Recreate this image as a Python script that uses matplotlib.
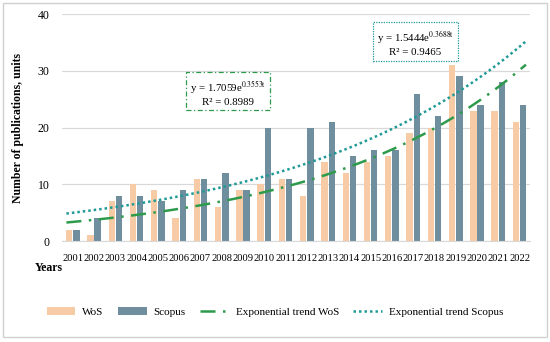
import numpy as np
import matplotlib.pyplot as plt
from matplotlib.patches import Rectangle

years = [str(y) for y in range(2001, 2023)]
wos = [2, 1, 7, 10, 9, 4, 11, 6, 9, 10, 11, 8, 14, 12, 14, 15, 19, 20, 31, 23, 23, 21]
scopus = [2, 4, 8, 8, 7, 9, 11, 12, 9, 20, 11, 20, 21, 15, 16, 16, 26, 22, 29, 24, 28, 24]

wos_eq = ("y = 1.7059e$^{0.3553t}$", "R² = 0.8989")
scopus_eq = ("y = 1.5444e$^{0.3688t}$", "R² = 0.9465")

WOS_COLOR = "#F6CBA6"
SCOPUS_COLOR = "#6F8E9E"
WOS_TREND = "#2E9A4C"
SCOPUS_TREND = "#1F9A96"

plt.rcParams["font.family"] = ["Liberation Serif", "DejaVu Serif"]
plt.rcParams["mathtext.fontset"] = "stix"
plt.rcParams["mathtext.default"] = "rm"

fig = plt.figure(figsize=(5.5, 3.42), dpi=100)
ax = fig.add_axes([0.113, 0.295, 0.851, 0.664])

x = np.arange(len(years))
w = 0.3
b_wos = ax.bar(x - w / 2 - 0.02, wos, w, color=WOS_COLOR, label="WoS", zorder=2)
b_sco = ax.bar(x + w / 2 + 0.02, scopus, w, color=SCOPUS_COLOR, label="Scopus", zorder=2)


def exp_fit(vals):
    b, ln_a = np.polyfit(x, np.log(vals), 1)
    return np.exp(ln_a), b


xt = np.linspace(-0.3, 21.3, 200)
a1, b1 = exp_fit(wos)
a2, b2 = exp_fit(scopus)
l_wos, = ax.plot(xt, a1 * np.exp(b1 * xt), color=WOS_TREND, lw=1.8,
                 linestyle=(0, (6, 3, 1, 3)), label="Exponential trend WoS", zorder=3)
l_sco, = ax.plot(xt, a2 * np.exp(b2 * xt), color=SCOPUS_TREND, lw=1.8,
                 linestyle=(0, (1, 1.2)), label="Exponential trend Scopus", zorder=3)

ax.set_xlim(-0.5, 21.5)
ax.set_ylim(0, 40)
ax.set_yticks([0, 10, 20, 30, 40])
ax.set_xticks(x)
ax.set_xticklabels(years, fontsize=7.6)
ax.tick_params(axis="y", labelsize=8.5, length=0, pad=9)
ax.tick_params(axis="x", length=0, pad=9)
ax.grid(axis="y", color="#D9D9D9", lw=0.9, zorder=0)
for s in ["top", "right", "left"]:
    ax.spines[s].set_visible(False)
ax.spines["bottom"].set_color("#D9D9D9")
ax.set_ylabel("Number of publications, units", fontsize=8.5, fontweight="bold", labelpad=10)

ax.text(7.3, 28.6, wos_eq[0] + "\n" + wos_eq[1], fontsize=7.8, ha="center", va="top",
        linespacing=1.3, zorder=6,
        bbox=dict(boxstyle="square,pad=0.35", fc="white", ec=WOS_TREND, ls=(0, (4, 2, 1, 2)), lw=0.9))
ax.text(16.1, 37.4, scopus_eq[0] + "\n" + scopus_eq[1], fontsize=7.8, ha="center", va="top",
        linespacing=1.3, zorder=6,
        bbox=dict(boxstyle="square,pad=0.35", fc="white", ec=SCOPUS_TREND, ls=(0, (1, 1)), lw=0.9))

fig.text(35 / 550, 1 - 268 / 342, "Years", fontsize=8.5, fontweight="bold", ha="left", va="center")

handles = [b_wos, b_sco, l_wos, l_sco]
fig.legend(handles, [h.get_label() for h in handles], loc="center",
           bbox_to_anchor=(0.5, 1 - 312 / 342), ncol=4, frameon=False,
           fontsize=8, handlelength=2.6, columnspacing=1.3, handletextpad=0.6)

fig.add_artist(Rectangle((0.006, 0.015), 0.988, 0.975, transform=fig.transFigure,
                         fill=False, ec="#D0D0D0", lw=1))

fig.savefig("out.png", dpi=100)
